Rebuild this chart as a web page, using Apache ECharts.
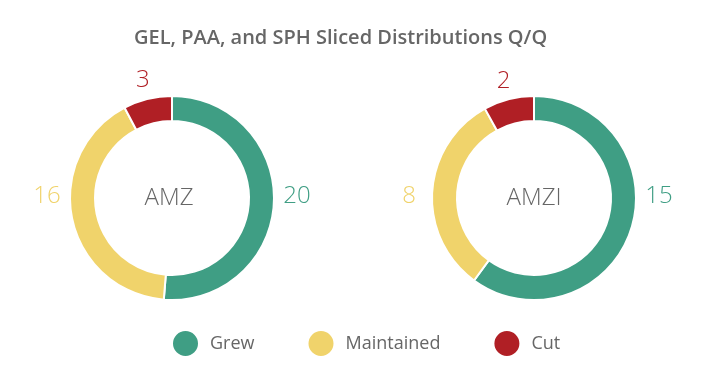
<!DOCTYPE html>
<html><head><meta charset="utf-8">
<script src="https://cdn.jsdelivr.net/npm/echarts@6/dist/echarts.min.js"></script>
<style>html,body{margin:0;padding:0;background:#fff}#c{width:712px;height:375px}</style>
</head><body><div id="c"></div>
<script>
const categories = ['Grew', 'Maintained', 'Cut'];
const amzValues = [20, 16, 3];
const amziValues = [15, 8, 2];
const donutNames = ['AMZ', 'AMZI'];
const colors = ['#3f9e84', '#f0d36b', '#b01f25'];
const FONT = '"Open Sans", "Noto Sans", sans-serif';
const centers = [[172, 198], [534, 198]];
const seriesValues = [amzValues, amziValues];

function makeData(vals) {
  return categories.map((c, i) => ({
    name: c, value: vals[i],
    itemStyle: { color: colors[i] },
    label: { color: colors[i] }
  }));
}
function layoutFor(si) {
  return function (p) {
    const [cx, cy] = centers[si];
    const vals = seriesValues[si];
    const total = vals.reduce((a, b) => a + b, 0);
    const i = p.dataIndex;
    if (i === 0) return { x: cx + 125, y: cy - 2, align: 'center', verticalAlign: 'middle' };
    if (i === 1) return { x: cx - 125, y: cy - 2, align: 'center', verticalAlign: 'middle' };
    let before = 0;
    for (let k = 0; k < i; k++) before += vals[k];
    const mid = (before + vals[i] / 2) / total * 2 * Math.PI;
    const r = 122;
    return { x: cx + r * Math.sin(mid), y: cy - r * Math.cos(mid) + 1, align: 'center', verticalAlign: 'middle' };
  };
}
function pieSeries(si) {
  return {
    type: 'pie', name: donutNames[si],
    center: centers[si], radius: [77, 102],
    startAngle: 90, clockwise: true,
    avoidLabelOverlap: false,
    itemStyle: { borderColor: '#fff', borderWidth: 2 },
    label: { show: true, position: 'outside', formatter: '{c}', fontSize: 24, fontFamily: FONT, fontWeight: 300 },
    labelLine: { show: false },
    labelLayout: layoutFor(si),
    emphasis: { disabled: true },
    data: makeData(seriesValues[si])
  };
}
const chart = echarts.init(document.getElementById('c'), null, { renderer: 'canvas' });
chart.setOption({
  animation: false,
  title: { text: 'GEL, PAA, and SPH Sliced Distributions Q/Q', left: 129, top: 23,
    textStyle: { fontSize: 20, fontWeight: 600, color: '#666', fontFamily: FONT } },
  graphic: [
    { type: 'text', x: 169, y: 198, style: { text: donutNames[0], textAlign: 'center', textVerticalAlign: 'middle',
      fontSize: 24, fontWeight: 300, fill: '#666', fontFamily: FONT } },
    { type: 'text', x: 534, y: 198, style: { text: donutNames[1], textAlign: 'center', textVerticalAlign: 'middle',
      fontSize: 24, fontWeight: 300, fill: '#666', fontFamily: FONT } }
  ],
  legend: {
    bottom: 12, left: 166, icon: 'circle', itemWidth: 27, itemHeight: 27, itemGap: 52,
    textStyle: { fontSize: 18, color: '#666', fontFamily: FONT, padding: [0, 0, 0, 6] },
    data: categories
  },
  series: [pieSeries(0), pieSeries(1)]
});
</script></body></html>
